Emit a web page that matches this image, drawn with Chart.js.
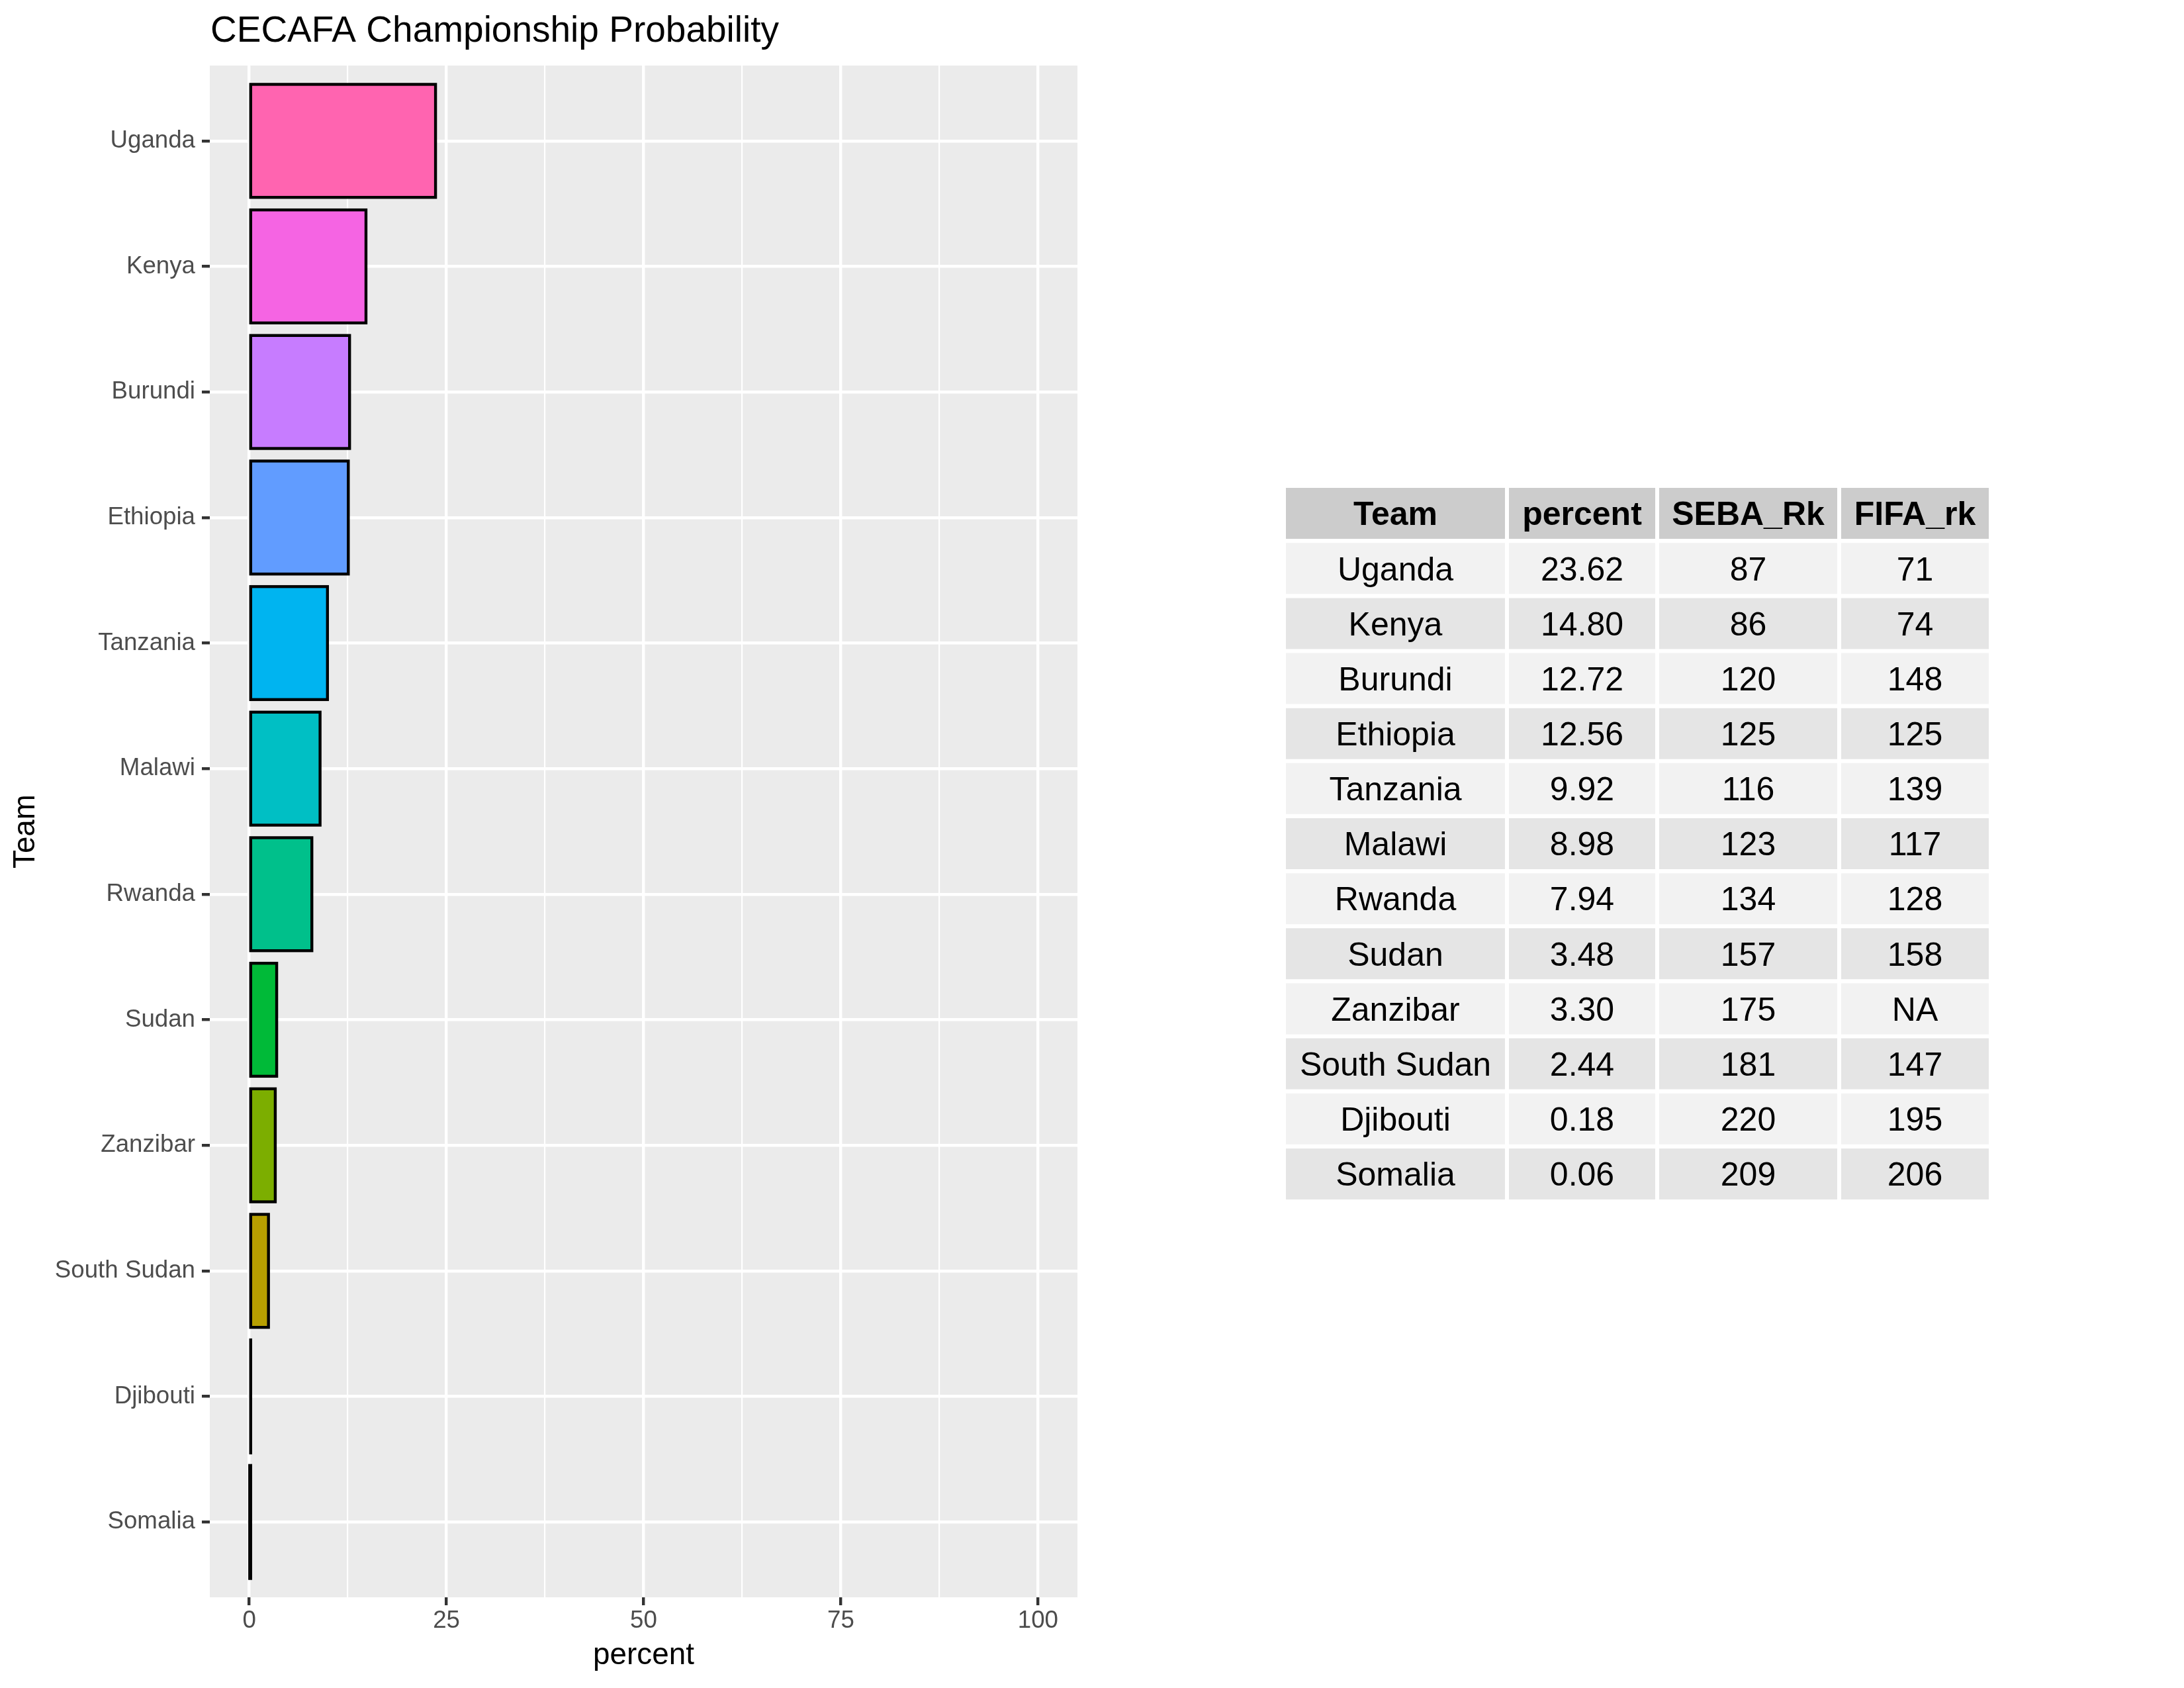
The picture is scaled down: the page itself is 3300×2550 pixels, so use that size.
<!DOCTYPE html>
<html>
<head>
<meta charset="utf-8">
<script src="https://cdn.jsdelivr.net/npm/chart.js@4.4.1/dist/chart.umd.min.js"></script>
<style>
body { margin:0; background:#fff; width:3300px; height:2550px; position:relative; overflow:hidden; }
canvas { position:absolute; }
#bars { left:0; top:0; }
#table { left:1940px; top:734px; }
</style>
</head>
<body>
<canvas id="bars" width="1700" height="2550"></canvas>
<canvas id="table" width="1068" height="1081"></canvas>
<script>
const teams = ["Uganda","Kenya","Burundi","Ethiopia","Tanzania","Malawi","Rwanda","Sudan","Zanzibar","South Sudan","Djibouti","Somalia"];
const percent = [23.62,14.80,12.72,12.56,9.92,8.98,7.94,3.48,3.30,2.44,0.18,0.06];
const sebaRk = [87,86,120,125,116,123,134,157,175,181,220,209];
const fifaRk = [71,74,148,125,139,117,128,158,null,147,195,206];
const tableHeaders = ["Team","percent","SEBA_Rk","FIFA_rk"];
const xTicks = [0,25,50,75,100];
const barColors = ["#FF64B0","#F564E3","#C77CFF","#619CFF","#00B4F0","#00BFC4","#00C08B","#00BA38","#7CAE00","#B79F00","#DE8C00","#F8766D"];

const FONT = "'Liberation Sans', Arial, Helvetica, sans-serif";
Chart.defaults.font.family = FONT;
Chart.defaults.devicePixelRatio = 1;

// minor grid lines sit half way between the labelled ones (ggplot style)
let xGrid = [];
for (let i = 0; i < xTicks.length; i++) {
  xGrid.push(xTicks[i]);
  if (i < xTicks.length - 1) xGrid.push((xTicks[i] + xTicks[i+1]) / 2);
}

const panelBg = {
  id: "panelBg",
  beforeDraw(chart) {
    const a = chart.chartArea, ctx = chart.ctx;
    ctx.save();
    ctx.fillStyle = "#EBEBEB";
    ctx.fillRect(a.left, a.top, a.right - a.left, a.bottom - a.top);
    ctx.restore();
  }
};

const barOutline = {
  id: "barOutline",
  afterDatasetsDraw(chart) {
    const ctx = chart.ctx;
    ctx.save();
    ctx.lineWidth = 4.4;
    ctx.strokeStyle = "#000";
    chart.getDatasetMeta(0).data.forEach(bar => {
      const p = bar.getProps(["x","y","base","height"], true);
      ctx.strokeRect(Math.min(p.x, p.base), p.y - p.height/2, Math.abs(p.x - p.base), p.height);
    });
    ctx.restore();
  }
};

const plotTitle = {
  id: "plotTitle",
  afterDraw(chart) {
    const ctx = chart.ctx;
    ctx.save();
    ctx.font = "55px " + FONT;
    ctx.fillStyle = "#000";
    ctx.textAlign = "left";
    ctx.textBaseline = "alphabetic";
    ctx.fillText("CECAFA Championship Probability", chart.chartArea.left + 1, 63);
    ctx.restore();
  }
};

new Chart(document.getElementById("bars"), {
  type: "bar",
  data: {
    datasets: [{
      data: percent.map((p, i) => ({x: p, y: i})),
      backgroundColor: barColors,
      borderWidth: 0,
      barPercentage: 0.9,
      categoryPercentage: 1
    }]
  },
  options: {
    indexAxis: "y",
    responsive: false,
    animation: false,
    layout: { padding: { top: 99, right: 72, left: 0, bottom: 0 } },
    plugins: { legend: { display: false }, tooltip: { enabled: false } },
    scales: {
      x: {
        type: "linear",
        min: -5,
        max: 105,
        afterBuildTicks: s => { s.ticks = xGrid.map(v => ({value: v})); },
        afterFit: s => { s.height = 137; },
        border: { display: false },
        grid: {
          color: "#FFFFFF",
          lineWidth: c => xTicks.includes(c.tick.value) ? 4.4 : 2.2,
          tickColor: c => xTicks.includes(c.tick.value) ? "#333333" : "rgba(0,0,0,0)",
          tickWidth: 4.4,
          tickLength: 12
        },
        ticks: {
          autoSkip: false,
          maxRotation: 0,
          padding: 2,
          color: "#4D4D4D",
          font: { size: 36.7 },
          callback: v => xTicks.includes(v) ? String(v) : ""
        },
        title: {
          display: true,
          text: "percent",
          color: "#000",
          font: { size: 45.8 },
          padding: { top: 0, bottom: 21 }
        }
      },
      y: {
        type: "linear",
        min: -0.6,
        max: 11.6,
        reverse: true,
        offset: false,
        afterBuildTicks: s => { s.ticks = teams.map((t, i) => ({value: i})); },
        afterFit: s => { s.width = 317; },
        border: { display: false },
        grid: {
          offset: false,
          color: "#FFFFFF",
          lineWidth: 4.4,
          tickColor: "#333333",
          tickWidth: 4.4,
          tickLength: 12
        },
        ticks: {
          autoSkip: false,
          padding: 10,
          color: "#4D4D4D",
          font: { size: 36.7 },
          callback: v => teams[v]
        },
        title: {
          display: true,
          text: "Team",
          color: "#000",
          font: { size: 45.8 },
          padding: { top: 12, bottom: 0 }
        }
      }
    }
  },
  plugins: [panelBg, barOutline, plotTitle]
});

// ---- table (cells are floating bars on a hidden scale) ----
const colWidths = [337, 227, 275, 229];
const cellGap = 3;
const rowLabels = ["header"].concat(teams);
let edges = [0];
colWidths.forEach(w => edges.push(edges[edges.length-1] + w));

function cellText(col, row) {
  if (col === 0) return teams[row];
  if (col === 1) return percent[row].toFixed(2);
  if (col === 2) return String(sebaRk[row]);
  return fifaRk[row] === null ? "NA" : String(fifaRk[row]);
}

const rowFill = rowLabels.map((r, i) => i === 0 ? "#CCCCCC" : (i % 2 === 1 ? "#F2F2F2" : "#E5E5E5"));

const cellLabels = {
  id: "cellLabels",
  afterDatasetsDraw(chart) {
    const ctx = chart.ctx;
    ctx.save();
    ctx.fillStyle = "#000";
    ctx.textAlign = "center";
    ctx.textBaseline = "middle";
    chart.data.datasets.forEach((ds, c) => {
      chart.getDatasetMeta(c).data.forEach((el, r) => {
        const pt = el.getCenterPoint();
        ctx.font = (r === 0 ? "bold " : "") + "50px " + FONT;
        ctx.fillText(r === 0 ? tableHeaders[c] : cellText(c, r - 1), pt.x, pt.y + 4);
      });
    });
    ctx.restore();
  }
};

new Chart(document.getElementById("table"), {
  type: "bar",
  data: {
    labels: rowLabels,
    datasets: tableHeaders.map((h, c) => ({
      label: h,
      data: rowLabels.map(() => [edges[c] + cellGap, edges[c+1] - cellGap]),
      backgroundColor: rowFill,
      borderWidth: 0,
      grouped: false,
      barPercentage: 0.926,
      categoryPercentage: 1
    }))
  },
  options: {
    indexAxis: "y",
    responsive: false,
    animation: false,
    layout: { padding: 0 },
    plugins: { legend: { display: false }, tooltip: { enabled: false } },
    scales: {
      x: { type: "linear", min: 0, max: edges[edges.length-1], display: false },
      y: { type: "category", offset: true, display: false }
    }
  },
  plugins: [cellLabels]
});
</script>
</body>
</html>
